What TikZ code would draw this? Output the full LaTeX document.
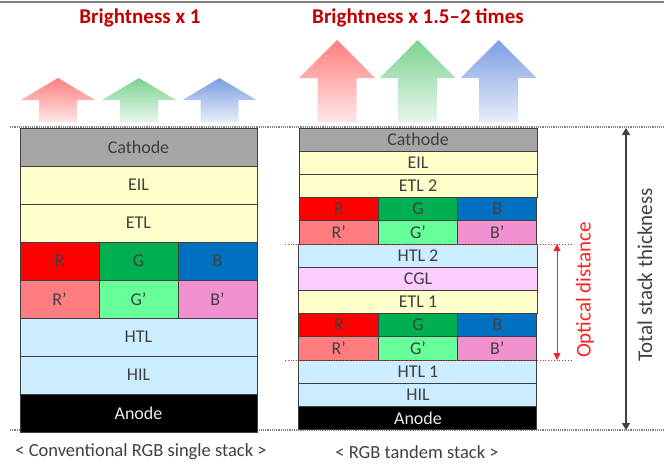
\documentclass[tikz,border=0pt]{standalone}
\usepackage{fontspec}
\setmainfont{Carlito}
\usetikzlibrary{positioning,arrows.meta}
\definecolor{edgegray}{HTML}{3F3F3F}
\definecolor{txtgray}{HTML}{404040}
\definecolor{cathgray}{HTML}{A6A6A6}
\definecolor{etlyel}{HTML}{FFFFCC}
\definecolor{htlblue}{HTML}{CCECFF}
\definecolor{cglpink}{HTML}{FFCCFF}
\definecolor{redR}{HTML}{FF0000}
\definecolor{greenG}{HTML}{00B050}
\definecolor{blueB}{HTML}{0070C0}
\definecolor{redP}{HTML}{FF7C80}
\definecolor{greenP}{HTML}{66FF99}
\definecolor{blueP}{HTML}{F291D0}
\definecolor{titlered}{HTML}{C00000}
\definecolor{optred}{HTML}{FF2020}
\definecolor{arR}{RGB}{255,125,125}
\definecolor{arG}{RGB}{125,210,145}
\definecolor{arB}{RGB}{125,158,225}
\tikzset{layer/.style={draw=edgegray, line width=1pt, text=txtgray, inner sep=0pt,
    outer sep=0pt, font=\fontsize{18}{18}\selectfont}}

\begin{document}
\begin{tikzpicture}[x=1pt, y=-1pt,
    wideL/.style={layer, minimum width=237, minimum height=38},
    cellL/.style={layer, minimum width=79, minimum height=38},
    wideR/.style={layer, minimum width=238, minimum height=23.2},
    cellR/.style={layer, minimum width=79.33, minimum height=23.2},
    title/.style={text=titlered, font=\fontsize{21}{21}\selectfont\bfseries},
    caption/.style={text=txtgray, font=\fontsize{18.5}{18.5}\selectfont},
    guide/.style={gray, densely dotted, line width=1.2pt}]
    \useasboundingbox (0,0) rectangle (664,464);
    \draw[gray, line width=1.5pt] (0,2) -- (664,2);

    \node[title] (titleL) at (140,18) {Brightness x 1};
    \node[title] (titleR) at (418,18) {Brightness x 1.5--2 times};

    \foreach \cx/\col in {58/arR, 139/arG, 219.5/arB}
        \shade[top color=\col, bottom color=\col!18!white]
            (\cx-37,100) -- (\cx,78) -- (\cx+37,100) -- (\cx+19,100)
            -- (\cx+19,122) -- (\cx-19,122) -- (\cx-19,100) -- cycle;
    \foreach \cx/\col in {337/arR, 417.5/arG, 498.5/arB}
        \shade[top color=\col, bottom color=\col!18!white]
            (\cx-38,78) -- (\cx,40) -- (\cx+38,78) -- (\cx+19.5,78)
            -- (\cx+19.5,122) -- (\cx-19.5,122) -- (\cx-19.5,78) -- cycle;

    \coordinate (topA) at (10,127);
    \coordinate (topB) at (664,127);
    \coordinate (botA) at (10,430);
    \coordinate (botB) at (664,430);
    \draw[guide] (topA) -- (topB);
    \draw[guide] (botA) -- (botB);

    \node[wideL, fill=cathgray, anchor=north west] (cathL) at (20,128) {Cathode};
    \node[wideL, fill=etlyel, below=0pt of cathL] (eilL) {EIL};
    \node[wideL, fill=etlyel, below=0pt of eilL] (etlL) {ETL};
    \node[cellL, fill=redR, anchor=north west] (rL) at (etlL.south west) {R};
    \node[cellL, fill=greenG, right=0pt of rL] (gL) {G};
    \node[cellL, fill=blueB, right=0pt of gL] (bL) {B};
    \node[cellL, fill=redP, below=0pt of rL] (rpL) {R'};
    \node[cellL, fill=greenP, below=0pt of gL] (gpL) {G'};
    \node[cellL, fill=blueP, below=0pt of bL] (bpL) {B'};
    \node[wideL, fill=htlblue, below=0pt of gpL] (htlL) {HTL};
    \node[wideL, fill=htlblue, below=0pt of htlL] (hilL) {HIL};
    \node[wideL, fill=black, text=white!92!black, below=0pt of hilL] (anodeL) {Anode};

    \node[wideR, fill=cathgray, anchor=north west] (cathR) at (299,128) {Cathode};
    \node[wideR, fill=etlyel, below=0pt of cathR] (eilR) {EIL};
    \node[wideR, fill=etlyel, below=0pt of eilR] (etlbR) {ETL 2};
    \node[cellR, fill=redR, anchor=north west] (rbR) at (etlbR.south west) {R};
    \node[cellR, fill=greenG, right=0pt of rbR] (gbR) {G};
    \node[cellR, fill=blueB, right=0pt of gbR] (bbR) {B};
    \node[cellR, fill=redP, below=0pt of rbR] (rpbR) {R'};
    \node[cellR, fill=greenP, below=0pt of gbR] (gpbR) {G'};
    \node[cellR, fill=blueP, below=0pt of bbR] (bpbR) {B'};
    \node[wideR, fill=htlblue, below=0pt of gpbR] (htlbR) {HTL 2};
    \node[wideR, fill=cglpink, below=0pt of htlbR] (cglR) {CGL};
    \node[wideR, fill=etlyel, below=0pt of cglR] (etlaR) {ETL 1};
    \node[cellR, fill=redR, anchor=north west] (raR) at (etlaR.south west) {R};
    \node[cellR, fill=greenG, right=0pt of raR] (gaR) {G};
    \node[cellR, fill=blueB, right=0pt of gaR] (baR) {B};
    \node[cellR, fill=redP, below=0pt of raR] (rpaR) {R'};
    \node[cellR, fill=greenP, below=0pt of gaR] (gpaR) {G'};
    \node[cellR, fill=blueP, below=0pt of baR] (bpaR) {B'};
    \node[wideR, fill=htlblue, below=0pt of gpaR] (htlaR) {HTL 1};
    \node[wideR, fill=htlblue, below=0pt of htlaR] (hilR) {HIL};
    \node[wideR, fill=black, text=white!92!black, below=0pt of hilR] (anodeR) {Anode};

    \coordinate (optA) at (285,244);
    \coordinate (optB) at (572,244);
    \coordinate (optC) at (285,360);
    \coordinate (optD) at (572,360);
    \draw[optred, dotted, line width=0.8pt] (optA) -- (optB);
    \draw[optred, dotted, line width=0.8pt] (optC) -- (optD);
    \coordinate (optTop) at (557,244);
    \coordinate (optBot) at (557,360);
    \draw[optred, line width=0.8pt, {Triangle[length=7pt,width=7pt]}-{Triangle[length=7pt,width=7pt]}]
        (optTop) -- (optBot);
    \node[rotate=90, text=optred, font=\fontsize{21}{21}\selectfont] (optL) at (585,290) {Optical distance};

    \coordinate (totTop) at (626,128);
    \coordinate (totBot) at (626,430);
    \draw[black!75, line width=1.3pt, {Triangle[length=7pt,width=8pt]}-{Triangle[length=7pt,width=8pt]}]
        (totTop) -- (totBot);
    \node[rotate=90, text=txtgray, font=\fontsize{21}{21}\selectfont] (totL) at (645,275) {Total stack thickness};

    \node[caption] (capL) at (141,452) {< Conventional RGB single stack >};
    \node[caption] (capR) at (417,452) {< RGB tandem stack >};
\end{tikzpicture}
\end{document}
